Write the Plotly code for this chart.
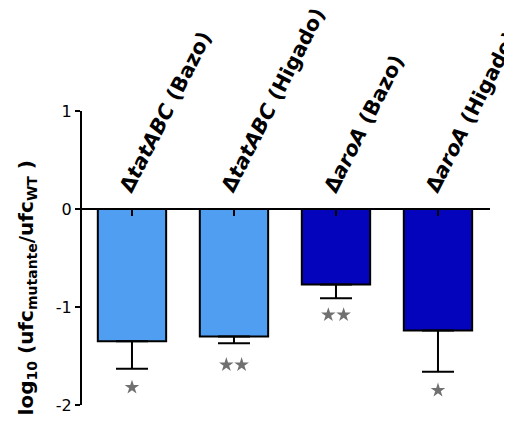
import plotly.graph_objects as go

categories = ["Δ<i>tatABC</i> (Bazo)", "Δ<i>tatABC</i> (Higado)",
              "Δ<i>aroA</i> (Bazo)", "Δ<i>aroA</i> (Higado)"]
values = [-1.35, -1.30, -0.77, -1.24]
err_minus = [0.28, 0.07, 0.14, 0.42]
bar_colors = ["#4f9ef2", "#4f9ef2", "#0404bc", "#0404bc"]
n_stars = [1, 2, 2, 1]
star_y = [-1.82, -1.59, -1.08, -1.85]
ytick_vals = [-2, -1, 0, 1]
ytick_text = ["-2", "-1", "0", "1"]

FONT = "DejaVu Sans"
xs = list(range(len(categories)))

fig = go.Figure()
fig.add_trace(go.Bar(
    x=xs, y=values, width=0.67,
    marker=dict(color=bar_colors, line=dict(color="black", width=2)),
    error_y=dict(type="data", symmetric=False, array=[0] * len(values),
                 arrayminus=err_minus, color="black", thickness=2, width=16),
    showlegend=False, hoverinfo="skip",
))

# significance stars
sx, sy = [], []
for i, (n, y) in enumerate(zip(n_stars, star_y)):
    if n == 1:
        sx.append(i); sy.append(y)
    else:
        sx += [i - 0.075, i + 0.075]; sy += [y, y]
fig.add_trace(go.Scatter(
    x=sx, y=sy, mode="markers",
    marker=dict(symbol="star", size=11, color="#707070"),
    showlegend=False, hoverinfo="skip", cliponaxis=False,
))

annotations = []
for i, c in enumerate(categories):
    annotations.append(dict(
        x=i, y=0, xref="x", yref="y", text="<b>" + c + "</b>",
        textangle=-63, showarrow=False, xanchor="left", yanchor="bottom",
        xshift=-20, yshift=10, font=dict(family=FONT, size=20.5, color="black"),
    ))
annotations.append(dict(
    x=0, y=-0.81, xref="paper", yref="y",
    text="<b>log<sub>10</sub> (ufc<sub>mutante</sub>/ufc<sub>WT</sub> )</b>",
    textangle=-90, showarrow=False, xanchor="center", yanchor="middle",
    xshift=-55, font=dict(family=FONT, size=20, color="black"),
))

fig.update_layout(
    width=512, height=421,
    margin=dict(l=74, r=30, t=103, b=24),
    paper_bgcolor="white", plot_bgcolor="white",
    annotations=annotations,
    xaxis=dict(range=[-0.49, 3.51], anchor="free", position=2 / 3,
               showline=True, linecolor="black", linewidth=2,
               ticks="outside", ticklen=6, tickwidth=2, tickcolor="black",
               tickvals=xs, showticklabels=False, showgrid=False,
               zeroline=False, automargin=False),
    yaxis=dict(range=[-2, 1], tickvals=ytick_vals, ticktext=ytick_text,
               showline=True, linecolor="black", linewidth=2,
               ticks="outside", ticklen=5, tickwidth=2, tickcolor="black",
               showgrid=False, zeroline=False, automargin=False,
               tickfont=dict(family=FONT, size=16, color="black")),
)
fig.update_yaxes(tickprefix="<b>", ticksuffix="</b>")

fig.write_html("out.html")
